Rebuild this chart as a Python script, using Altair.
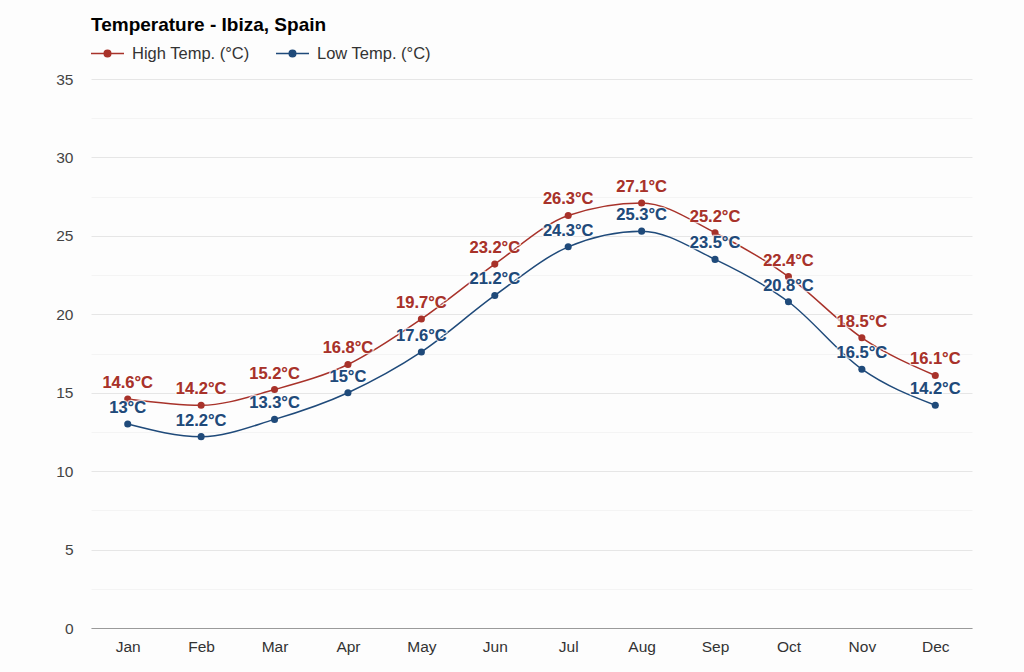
import altair as alt
import pandas as pd

months = ["Jan", "Feb", "Mar", "Apr", "May", "Jun", "Jul", "Aug", "Sep", "Oct", "Nov", "Dec"]
high = [14.6, 14.2, 15.2, 16.8, 19.7, 23.2, 26.3, 27.1, 25.2, 22.4, 18.5, 16.1]
low = [13, 12.2, 13.3, 15, 17.6, 21.2, 24.3, 25.3, 23.5, 20.8, 16.5, 14.2]
series_names = ["High Temp. (°C)", "Low Temp. (°C)"]
series_colors = ["#a8322a", "#1f4a7a"]
y_ticks = [i * 2.5 for i in range(15)]

rows = []
for m, h, l in zip(months, high, low):
    rows.append({"month": m, "series": series_names[0], "temp": h})
    rows.append({"month": m, "series": series_names[1], "temp": l})
df = pd.DataFrame(rows)
df["label"] = df["temp"].map(lambda v: f"{v:g}°C")

FONT = "Liberation Sans"

x = alt.X("month:N", sort=months, title=None,
          scale=alt.Scale(paddingInner=0, paddingOuter=0.5),
          axis=alt.Axis(labelAngle=0, ticks=False, domain=True, domainColor="#9a9a9a",
                        domainWidth=1.2, grid=False, labelPadding=11, labelFontSize=15.5,
                        labelColor="#333333", labelFont=FONT))
y = alt.Y("temp:Q", title=None,
          scale=alt.Scale(domain=[0, 35], nice=False),
          axis=alt.Axis(values=y_ticks, ticks=False, domain=False, labelPadding=18,
                        labelFontSize=15.5, labelColor="#444444", labelFont=FONT,
                        labelExpr="datum.value % 5 == 0 ? datum.label : ''",
                        gridColor={"condition": {"test": "datum.value % 5 != 0", "value": "#f4f4f4"},
                                   "value": "#e6e6e6"}))

legend_path = "M-1,0H1M-0.2,0a0.2,0.2 0 1,0 0.4,0a0.2,0.2 0 1,0 -0.4,0"
color = alt.Color("series:N", sort=series_names,
                  scale=alt.Scale(domain=series_names, range=series_colors),
                  legend=alt.Legend(title=None, orient="none", direction="horizontal",
                                    legendX=-1, legendY=-43, symbolType=legend_path,
                                    symbolSize=1089, symbolStrokeWidth=1.5,
                                    labelFontSize=16.5, labelColor="#333333", labelFont=FONT,
                                    labelOffset=7, columnPadding=23))

base = alt.Chart(df).encode(x=x, y=y, color=color)

lines = base.mark_line(interpolate="monotone", strokeWidth=1.5)
points = base.mark_circle(size=50, opacity=1)
halo = base.mark_text(dy=-16, fontSize=16.5, fontWeight="bold", font=FONT, stroke="white",
                      strokeWidth=2.5, strokeOpacity=0.7).encode(text="label:N")
labels = base.mark_text(dy=-16, fontSize=16.5, fontWeight="bold", font=FONT).encode(text="label:N")

chart = alt.layer(lines, points, halo, labels).properties(
    width=881, height=549,
    padding={"left": 91, "top": 79, "right": 52, "bottom": 44},
    autosize=alt.AutoSizeParams(type="none"),
    background="#fdfdfd",
    title=alt.TitleParams("Temperature - Ibiza, Spain", anchor="start", frame="group",
                          fontSize=19, fontWeight="bold", font=FONT, color="#000000", offset=1),
).configure_view(stroke=None)

chart.save("out.html", embed_options={"renderer": "svg", "actions": False})
